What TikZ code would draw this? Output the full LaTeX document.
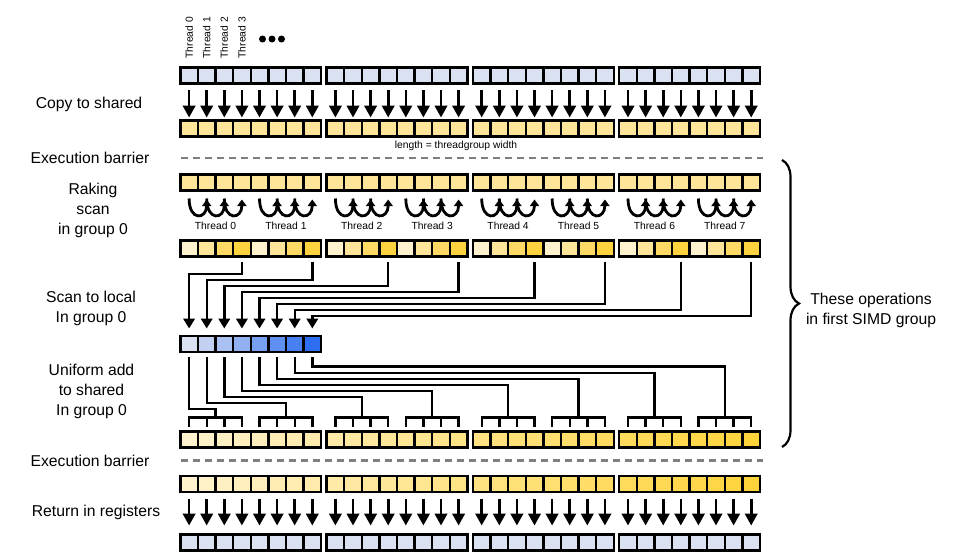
\documentclass[tikz,border=0pt]{standalone}
\usepackage{fontspec}
\setmainfont{Liberation Sans}
\usetikzlibrary{arrows.meta,decorations.pathreplacing,calc}
\definecolor{regblue}{HTML}{DAE2F2}
\definecolor{shyellow}{HTML}{FFE599}
\definecolor{ylight}{HTML}{FFF2CC}
\definecolor{ydark}{HTML}{FFD43B}
\definecolor{rk0}{HTML}{FFF2CC}
\definecolor{rk1}{HTML}{FFE599}
\definecolor{rk2}{HTML}{FFD966}
\definecolor{rk3}{HTML}{FFD23F}
\definecolor{blight}{HTML}{DAE1F2}
\definecolor{bdark}{HTML}{2D6FF0}
\definecolor{barrier}{HTML}{808080}
\begin{document}
\begin{tikzpicture}[x=1pt,y=-1pt,
		cell/.style={draw,line width=2.4pt,minimum width=17.6pt,minimum height=16pt,inner sep=0pt,outer sep=0pt},
		copyarrow/.style={line width=2.6pt,-{Triangle[length=12pt,width=12.5pt]}},
		wire/.style={line width=2.4pt},
		wirearrow/.style={line width=2.4pt,-{Triangle[length=10pt,width=11.5pt]}},
		rake/.style={line width=2.8pt,-{Triangle[length=6.5pt,width=9pt]}},
		rowlabel/.style={font=\fontsize{15.7}{20}\selectfont,align=center,inner sep=0pt},
		small/.style={font=\fontsize{10.3}{12}\selectfont,inner sep=0pt},
		barrierline/.style={barrier,line width=2.2pt,dash pattern=on 7pt off 5pt}]
		
		\useasboundingbox (0,0) rectangle (956,554);
		
		\foreach \n in {0,...,31} {
			\pgfmathsetmacro\xx{180.3+146.3*floor(\n/8)+17.6*(mod(\n,8)+0.5)}
			\pgfmathtruncatemacro\sh{mod(\n,4)}
			\pgfmathtruncatemacro\pc{100*\n/31}
			\node[cell,fill=regblue] (src-\n) at (\xx,75.5) {};
			\node[cell,fill=shyellow] (shA-\n) at (\xx,128.5) {};
			\node[cell,fill=shyellow] (shB-\n) at (\xx,182.5) {};
			\node[cell,fill=rk\sh] (rk-\n) at (\xx,248.5) {};
			\node[cell,fill=ydark!\pc!ylight] (shC-\n) at (\xx,439.5) {};
			\node[cell,fill=ydark!\pc!ylight] (shD-\n) at (\xx,484) {};
			\node[cell,fill=regblue] (reg-\n) at (\xx,542.5) {};
			\draw[copyarrow,shorten <=6.5pt,shorten >=3pt] (src-\n) -- (shA-\n);
			\draw[copyarrow,shorten <=7pt,shorten >=9pt] (shD-\n) -- (reg-\n);
		}
		
		\foreach \k in {0,...,7} {
			\pgfmathsetmacro\xx{180.3+17.6*(\k+0.5)}
			\pgfmathtruncatemacro\pc{100*\k/7}
			\node[cell,fill=bdark!\pc!blight] (loc-\k) at (\xx,344) {};
		}
		
		\foreach \i in {0,...,3}
			\node[small,rotate=90,anchor=west] (top-\i) at ($(src-\i.north)+(0,-9)$) {Thread \i};
		\fill (262.5,39) circle (3.5) (272,39) circle (3.5) (281.5,39) circle (3.5);
		
		\node[small] (lenNote) at (456,146) {length = threadgroup width};
		
		\foreach \tr in {0,...,7} {
			\pgfmathtruncatemacro\cA{4*\tr}
			\pgfmathtruncatemacro\cB{4*\tr+1}
			\pgfmathtruncatemacro\cC{4*\tr+2}
			\pgfmathtruncatemacro\cD{4*\tr+3}
			\pgfmathsetmacro\lvlA{274+6*\tr}
			\pgfmathsetmacro\lvlB{409-6.05*\tr}
			\draw[rake] ($(shB-\cA.south)+(0,8)$) .. controls +(0,23) and +(0,20) .. ($(shB-\cB.south)+(0,9)$);
			\draw[rake] ($(shB-\cB.south)+(0,8)$) .. controls +(0,23) and +(0,20) .. ($(shB-\cC.south)+(0,9)$);
			\draw[rake] ($(shB-\cC.south)+(0,8)$) .. controls +(0,23) and +(0,20) .. ($(shB-\cD.south)+(0,9)$);
			\node[small] (thr-\tr) at ($(shB-\cA.south)!0.5!(shB-\cD.south)+(0,35.5)$) {Thread \tr};
			
			\coordinate (lvlA-\tr) at (0,\lvlA);
			\draw[wirearrow,shorten <=5pt,shorten >=7.5pt] (rk-\cD.south) |- (loc-\tr.north |- lvlA-\tr) -- (loc-\tr.north);
			
			\coordinate (brk-\tr) at ($(shC-\cA.north)!0.5!(shC-\cD.north)+(0,-14)$);
			\draw[wire] ($(shC-\cA.north)+(0,-5)$) |- (brk-\tr) -| ($(shC-\cD.north)+(0,-5)$);
			\draw[wire] ($(shC-\cB.north)+(0,-5)$) -- (shC-\cB.north |- brk-\tr);
			\draw[wire] ($(shC-\cC.north)+(0,-5)$) -- (shC-\cC.north |- brk-\tr);
			\coordinate (lvlB-\tr) at (0,\lvlB);
			\draw[wire,shorten <=4.5pt] (loc-\tr.south) |- (brk-\tr |- lvlB-\tr) -- (brk-\tr);
		}
		
		\draw[barrierline] (181,158) -- (763,158);
		\draw[barrierline] (181,460.5) -- (763,460.5);
		
		\node[rowlabel] (lblCopy) at (89,104) {Copy to shared};
		\node[rowlabel] (lblBarA) at (90,158) {Execution barrier};
		\node[rowlabel] (lblRake) at (93,210) {Raking\\scan\\in group 0};
		\node[rowlabel] (lblLocal) at (91,308) {Scan to local\\In group 0};
		\node[rowlabel] (lblAdd) at (91.5,391) {Uniform add\\to shared\\In group 0};
		\node[rowlabel] (lblBarB) at (90,461) {Execution barrier};
		\node[rowlabel] (lblRet) at (96,512) {Return in registers};
		
		\draw[line width=2.2pt,decorate,decoration={brace,amplitude=17pt}] (782,160) -- (782,447);
		\node[rowlabel] (simdNote) at (871,310) {These operations\\in first SIMD group};
	\end{tikzpicture}
\end{document}
